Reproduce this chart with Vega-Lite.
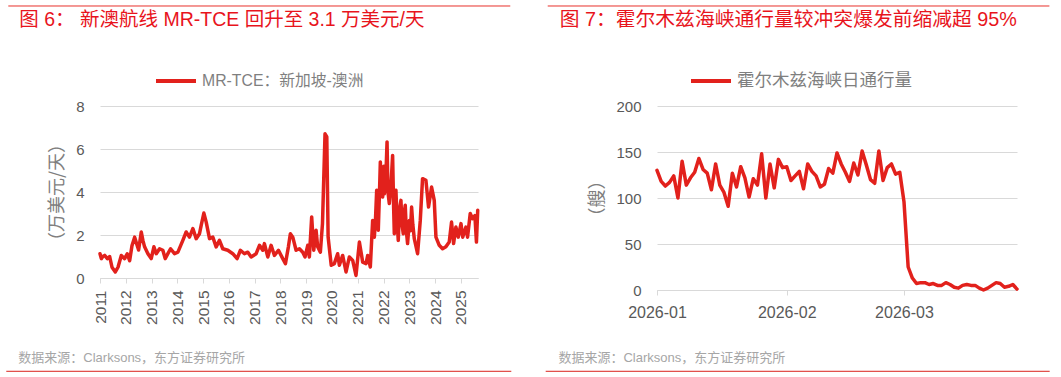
{
  "$schema": "https://vega.github.io/schema/vega-lite/v6.json",
  "background": "white",
  "padding": {"left": 5, "top": 5, "right": 14, "bottom": 5},
  "spacing": 33,
  "resolve": {"scale": {"color": "independent"}, "legend": {"color": "independent"}},
  "config": {
    "view": {"stroke": null},
    "font": "Liberation Sans, Noto Sans CJK SC",
    "axis": {
      "labelFont": "Liberation Sans, Noto Sans CJK SC",
      "labelColor": "#595959",
      "labelFontSize": 15,
      "labelFlush": false,
      "titleFont": "Noto Sans CJK SC",
      "titleColor": "#7F7F7F",
      "titleFontSize": 18,
      "titleFontWeight": "normal",
      "gridColor": "#D9D9D9",
      "domainColor": "#D9D9D9",
      "tickColor": "#D9D9D9"
    },
    "legend": {
      "labelFont": "Liberation Sans, Noto Sans CJK SC",
      "labelFontSize": 17,
      "labelColor": "#7F7F7F",
      "labelLimit": 0,
      "symbolType": "stroke",
      "symbolSize": 1600,
      "symbolStrokeWidth": 4,
      "labelOffset": 4,
      "padding": 0
    }
  },
  "hconcat": [
    {
      "width": 378,
      "height": 172,
      "layer": [
        {
          "data": {"values": [
            {"date":"2011-01-01","v":1.13},{"date":"2011-01-20","v":0.9},{"date":"2011-02-10","v":1.0},{"date":"2011-03-08","v":1.05},
            {"date":"2011-04-15","v":0.9},{"date":"2011-05-18","v":1.0},{"date":"2011-06-20","v":0.5},{"date":"2011-08-06","v":0.28},
            {"date":"2011-09-13","v":0.5},{"date":"2011-10-30","v":1.05},{"date":"2011-12-16","v":0.9},{"date":"2012-01-22","v":1.13},
            {"date":"2012-02-25","v":0.8},{"date":"2012-03-29","v":1.5},{"date":"2012-05-06","v":1.9},{"date":"2012-06-12","v":1.5},
            {"date":"2012-07-01","v":1.3},{"date":"2012-08-08","v":2.14},{"date":"2012-08-31","v":1.75},{"date":"2012-09-24","v":1.45},
            {"date":"2012-11-10","v":1.13},{"date":"2012-12-27","v":0.9},{"date":"2013-02-03","v":1.45},{"date":"2013-03-08","v":1.13},
            {"date":"2013-04-24","v":1.36},{"date":"2013-06-10","v":1.29},{"date":"2013-07-13","v":0.9},{"date":"2013-08-20","v":1.13},
            {"date":"2013-09-27","v":1.36},{"date":"2013-11-22","v":1.13},{"date":"2014-01-09","v":1.2},{"date":"2014-03-20","v":1.75},
            {"date":"2014-05-06","v":2.14},{"date":"2014-06-22","v":1.9},{"date":"2014-08-09","v":2.3},{"date":"2014-09-25","v":1.83},
            {"date":"2014-11-11","v":2.06},{"date":"2014-12-05","v":2.45},{"date":"2015-01-12","v":3.02},{"date":"2015-02-14","v":2.6},
            {"date":"2015-04-02","v":1.83},{"date":"2015-05-19","v":1.9},{"date":"2015-07-05","v":1.45},{"date":"2015-08-21","v":1.75},
            {"date":"2015-10-07","v":1.36},{"date":"2015-12-17","v":1.29},{"date":"2016-02-26","v":1.13},{"date":"2016-04-27","v":0.9},
            {"date":"2016-06-13","v":1.29},{"date":"2016-08-09","v":1.13},{"date":"2016-09-26","v":1.2},{"date":"2016-11-12","v":0.98},
            {"date":"2017-01-22","v":1.13},{"date":"2017-03-10","v":1.52},{"date":"2017-04-26","v":1.29},{"date":"2017-05-19","v":1.6},
            {"date":"2017-07-06","v":0.98},{"date":"2017-08-22","v":1.52},{"date":"2017-10-08","v":1.05},{"date":"2017-12-04","v":1.29},
            {"date":"2018-02-03","v":0.9},{"date":"2018-03-13","v":0.67},{"date":"2018-04-24","v":1.45},{"date":"2018-05-22","v":2.06},
            {"date":"2018-06-25","v":1.9},{"date":"2018-08-11","v":1.29},{"date":"2018-09-27","v":1.36},{"date":"2018-11-13","v":1.2},
            {"date":"2018-12-16","v":0.98},{"date":"2019-01-23","v":1.52},{"date":"2019-02-15","v":0.98},{"date":"2019-03-20","v":2.84},
            {"date":"2019-04-18","v":1.29},{"date":"2019-05-21","v":2.22},{"date":"2019-06-13","v":1.45},{"date":"2019-07-21","v":1.2},
            {"date":"2019-08-20","v":2.53},{"date":"2019-09-25","v":6.71},{"date":"2019-10-20","v":6.56},{"date":"2019-11-08","v":1.9},
            {"date":"2019-12-22","v":0.59},{"date":"2020-02-04","v":0.67},{"date":"2020-03-22","v":1.13},{"date":"2020-04-15","v":0.59},
            {"date":"2020-06-01","v":1.05},{"date":"2020-07-19","v":0.28},{"date":"2020-09-04","v":0.98},{"date":"2020-10-21","v":0.82},
            {"date":"2020-12-07","v":0.12},{"date":"2021-01-24","v":1.67},{"date":"2021-03-12","v":0.74},{"date":"2021-04-28","v":0.67},
            {"date":"2021-05-22","v":1.05},{"date":"2021-06-28","v":0.51},{"date":"2021-07-31","v":2.68},{"date":"2021-08-24","v":1.9},
            {"date":"2021-09-10","v":2.8},{"date":"2021-09-26","v":4.08},{"date":"2021-10-10","v":3.9},{"date":"2021-10-19","v":2.22},
            {"date":"2021-11-05","v":4.0},{"date":"2021-11-17","v":5.4},{"date":"2021-12-01","v":4.2},{"date":"2021-12-20","v":3.77},
            {"date":"2022-01-05","v":5.2},{"date":"2022-01-13","v":3.92},{"date":"2022-02-01","v":4.5},{"date":"2022-02-20","v":6.33},
            {"date":"2022-03-05","v":4.0},{"date":"2022-03-24","v":3.46},{"date":"2022-04-15","v":4.2},{"date":"2022-05-10","v":5.7},
            {"date":"2022-05-25","v":3.2},{"date":"2022-06-03","v":2.06},{"date":"2022-06-15","v":3.9},{"date":"2022-06-26","v":4.08},
            {"date":"2022-07-10","v":2.8},{"date":"2022-07-29","v":1.75},{"date":"2022-08-15","v":3.2},{"date":"2022-09-05","v":3.61},
            {"date":"2022-09-20","v":2.5},{"date":"2022-10-08","v":2.06},{"date":"2022-10-20","v":3.0},{"date":"2022-11-05","v":3.38},
            {"date":"2022-11-20","v":2.2},{"date":"2022-12-08","v":1.6},{"date":"2023-01-02","v":2.68},{"date":"2023-01-18","v":2.2},
            {"date":"2023-02-03","v":3.3},{"date":"2023-02-20","v":2.5},{"date":"2023-03-13","v":1.83},{"date":"2023-04-29","v":1.13},
            {"date":"2023-06-06","v":2.68},{"date":"2023-07-08","v":4.62},{"date":"2023-08-25","v":4.54},{"date":"2023-10-01","v":3.3},
            {"date":"2023-11-13","v":4.23},{"date":"2023-12-21","v":3.61},{"date":"2024-01-14","v":1.9},{"date":"2024-03-01","v":1.52},
            {"date":"2024-04-17","v":1.36},{"date":"2024-06-03","v":1.45},{"date":"2024-07-20","v":1.67},{"date":"2024-08-22","v":2.6},
            {"date":"2024-09-20","v":1.6},{"date":"2024-10-23","v":2.37},{"date":"2024-11-25","v":1.9},{"date":"2025-01-03","v":2.53},
            {"date":"2025-01-27","v":1.9},{"date":"2025-03-14","v":2.37},{"date":"2025-04-06","v":1.9},{"date":"2025-05-14","v":3.0},
            {"date":"2025-06-16","v":2.76},{"date":"2025-07-19","v":2.9},{"date":"2025-08-10","v":1.67},{"date":"2025-08-28","v":3.15}
          ]},
          "mark": {"type": "line", "strokeWidth": 3.5, "strokeJoin": "round", "strokeCap": "round"},
          "encoding": {
            "x": {
              "field": "date", "type": "temporal",
              "scale": {"type": "utc", "domain": [{"year": 2011, "month": 1, "date": 1, "utc": true}, {"year": 2025, "month": 9, "date": 1, "utc": true}]},
              "axis": {
                "title": null, "grid": false, "format": "%Y", "labelAngle": 270,
                "values": [
                  {"year": 2011, "month": 1, "date": 1, "utc": true}, {"year": 2012, "month": 1, "date": 1, "utc": true},
                  {"year": 2013, "month": 1, "date": 1, "utc": true}, {"year": 2014, "month": 1, "date": 1, "utc": true},
                  {"year": 2015, "month": 1, "date": 1, "utc": true}, {"year": 2016, "month": 1, "date": 1, "utc": true},
                  {"year": 2017, "month": 1, "date": 1, "utc": true}, {"year": 2018, "month": 1, "date": 1, "utc": true},
                  {"year": 2019, "month": 1, "date": 1, "utc": true}, {"year": 2020, "month": 1, "date": 1, "utc": true},
                  {"year": 2021, "month": 1, "date": 1, "utc": true}, {"year": 2022, "month": 1, "date": 1, "utc": true},
                  {"year": 2023, "month": 1, "date": 1, "utc": true}, {"year": 2024, "month": 1, "date": 1, "utc": true},
                  {"year": 2025, "month": 1, "date": 1, "utc": true}
                ],
                "tickSize": 5, "labelPadding": 7, "labelFontSize": 15.5
              }
            },
            "y": {
              "field": "v", "type": "quantitative",
              "scale": {"domain": [0, 8]},
              "axis": {"values": [0, 2, 4, 6, 8], "title": "（万美元/天）", "titlePadding": 9, "domain": false, "ticks": false, "labelPadding": 16, "grid": true}
            },
            "color": {
              "datum": "MR-TCE：新加坡-澳洲",
              "scale": {"range": ["#E2211C"]},
              "legend": {"title": null, "orient": "none", "legendX": 54, "legendY": -47, "labelFontSize": 15.8}
            }
          }
        },
        {
          "data": {"values": [{}]},
          "mark": {"type": "rule", "color": "#E8312B", "strokeWidth": 1},
          "encoding": {
            "x": {"datum": -0.2426, "type": "quantitative", "scale": {"domain": [0, 1]}, "axis": null},
            "x2": {"datum": 1.0854},
            "y": {"datum": 1.5814, "type": "quantitative", "scale": {"domain": [0, 1]}, "axis": null}
          }
        },
        {
          "data": {"values": [{}]},
          "mark": {"type": "rule", "color": "#D9231D", "strokeWidth": 1},
          "encoding": {
            "x": {"datum": -0.2479, "type": "quantitative", "scale": {"domain": [0, 1]}, "axis": null},
            "x2": {"datum": 1.0881},
            "y": {"datum": -0.5424, "type": "quantitative", "scale": {"domain": [0, 1]}, "axis": null}
          }
        },
        {
          "data": {"values": [{}]},
          "mark": {"type": "text", "text": "图 6： 新澳航线 MR-TCE 回升至 3.1 万美元/天", "align": "left", "baseline": "middle", "fontSize": 19.5, "color": "#E8141C", "font": "Liberation Sans, Noto Sans CJK SC"},
          "encoding": {
            "x": {"datum": -0.2135, "type": "quantitative", "scale": {"domain": [0, 1]}, "axis": null},
            "y": {"datum": 1.4983, "type": "quantitative", "scale": {"domain": [0, 1]}, "axis": null}
          }
        },
        {
          "data": {"values": [{}]},
          "mark": {"type": "text", "text": "数据来源：Clarksons，东方证券研究所", "align": "left", "baseline": "middle", "fontSize": 13, "color": "#A6A6A6", "font": "Liberation Sans, Noto Sans CJK SC"},
          "encoding": {
            "x": {"datum": -0.2161, "type": "quantitative", "scale": {"domain": [0, 1]}, "axis": null},
            "y": {"datum": -0.4651, "type": "quantitative", "scale": {"domain": [0, 1]}, "axis": null}
          }
        }
      ],
      "resolve": {"scale": {"x": "independent", "y": "independent"}}
    },
    {
      "width": 360,
      "height": 184,
      "layer": [
        {
          "data": {"values": [
            {"date":"2026-01-01","v":130},{"date":"2026-01-02","v":118},{"date":"2026-01-03","v":113},{"date":"2026-01-04","v":117},
            {"date":"2026-01-05","v":124},{"date":"2026-01-06","v":100},{"date":"2026-01-07","v":140},{"date":"2026-01-08","v":114},
            {"date":"2026-01-09","v":122},{"date":"2026-01-10","v":128},{"date":"2026-01-11","v":143},{"date":"2026-01-12","v":131},
            {"date":"2026-01-13","v":127},{"date":"2026-01-14","v":109},{"date":"2026-01-15","v":137},{"date":"2026-01-16","v":114},
            {"date":"2026-01-17","v":106},{"date":"2026-01-18","v":91},{"date":"2026-01-19","v":127},{"date":"2026-01-20","v":112},
            {"date":"2026-01-21","v":134},{"date":"2026-01-22","v":122},{"date":"2026-01-23","v":101},{"date":"2026-01-24","v":121},
            {"date":"2026-01-25","v":114},{"date":"2026-01-26","v":148},{"date":"2026-01-27","v":100},{"date":"2026-01-28","v":137},
            {"date":"2026-01-29","v":111},{"date":"2026-01-30","v":142},{"date":"2026-01-31","v":133},{"date":"2026-02-01","v":134},
            {"date":"2026-02-02","v":119},{"date":"2026-02-03","v":124},{"date":"2026-02-04","v":129},{"date":"2026-02-05","v":110},
            {"date":"2026-02-06","v":137},{"date":"2026-02-07","v":129},{"date":"2026-02-08","v":124},{"date":"2026-02-09","v":112},
            {"date":"2026-02-10","v":115},{"date":"2026-02-11","v":132},{"date":"2026-02-12","v":127},{"date":"2026-02-13","v":149},
            {"date":"2026-02-14","v":137},{"date":"2026-02-15","v":128},{"date":"2026-02-16","v":118},{"date":"2026-02-17","v":138},
            {"date":"2026-02-18","v":125},{"date":"2026-02-19","v":151},{"date":"2026-02-20","v":136},{"date":"2026-02-21","v":120},
            {"date":"2026-02-22","v":116},{"date":"2026-02-23","v":151},{"date":"2026-02-24","v":119},{"date":"2026-02-25","v":133},
            {"date":"2026-02-26","v":137},{"date":"2026-02-27","v":126},{"date":"2026-02-28","v":128},{"date":"2026-03-01","v":96},
            {"date":"2026-03-02","v":25},{"date":"2026-03-03","v":13},{"date":"2026-03-04","v":7},{"date":"2026-03-05","v":8},
            {"date":"2026-03-06","v":8},{"date":"2026-03-07","v":6},{"date":"2026-03-08","v":7},{"date":"2026-03-09","v":5},
            {"date":"2026-03-10","v":5},{"date":"2026-03-11","v":8},{"date":"2026-03-12","v":6},{"date":"2026-03-13","v":3},
            {"date":"2026-03-14","v":2},{"date":"2026-03-15","v":5},{"date":"2026-03-16","v":6},{"date":"2026-03-17","v":5},
            {"date":"2026-03-18","v":5},{"date":"2026-03-19","v":2},{"date":"2026-03-20","v":0},{"date":"2026-03-21","v":2},
            {"date":"2026-03-22","v":5},{"date":"2026-03-23","v":8},{"date":"2026-03-24","v":7},{"date":"2026-03-25","v":3},
            {"date":"2026-03-26","v":4},{"date":"2026-03-27","v":6},{"date":"2026-03-28","v":1}
          ]},
          "mark": {"type": "line", "strokeWidth": 3.5, "strokeJoin": "round", "strokeCap": "round"},
          "encoding": {
            "x": {
              "field": "date", "type": "temporal",
              "scale": {"type": "utc", "domain": [{"year": 2026, "month": 1, "date": 1, "utc": true}, {"year": 2026, "month": 3, "date": 28, "utc": true}]},
              "axis": {
                "title": null, "grid": false, "format": "%Y-%m", "labelAngle": 0,
                "values": [
                  {"year": 2026, "month": 1, "date": 1, "utc": true},
                  {"year": 2026, "month": 2, "date": 1, "utc": true},
                  {"year": 2026, "month": 3, "date": 1, "utc": true}
                ],
                "tickSize": 5, "labelPadding": 9, "labelFontSize": 16
              }
            },
            "y": {
              "field": "v", "type": "quantitative",
              "scale": {"domain": [0, 200]},
              "axis": {"values": [0, 50, 100, 150, 200], "title": "（艘）", "titlePadding": 9, "domain": false, "ticks": false, "labelPadding": 16, "grid": true}
            },
            "color": {
              "datum": "霍尔木兹海峡日通行量",
              "scale": {"range": ["#E2211C"]},
              "legend": {"title": null, "orient": "none", "legendX": 32, "legendY": -47, "labelFontSize": 17.5}
            }
          }
        },
        {
          "data": {"values": [{}]},
          "mark": {"type": "rule", "color": "#E8312B", "strokeWidth": 1},
          "encoding": {
            "x": {"datum": -0.3036, "type": "quantitative", "scale": {"domain": [0, 1]}, "axis": null},
            "x2": {"datum": 1.09},
            "y": {"datum": 1.5435, "type": "quantitative", "scale": {"domain": [0, 1]}, "axis": null}
          }
        },
        {
          "data": {"values": [{}]},
          "mark": {"type": "rule", "color": "#D9231D", "strokeWidth": 1},
          "encoding": {
            "x": {"datum": -0.3092, "type": "quantitative", "scale": {"domain": [0, 1]}, "axis": null},
            "x2": {"datum": 1.0908},
            "y": {"datum": -0.4418, "type": "quantitative", "scale": {"domain": [0, 1]}, "axis": null}
          }
        },
        {
          "data": {"values": [{}]},
          "mark": {"type": "text", "text": "图 7：霍尔木兹海峡通行量较冲突爆发前缩减超 95%", "align": "left", "baseline": "middle", "fontSize": 19.8, "color": "#E8141C", "font": "Liberation Sans, Noto Sans CJK SC"},
          "encoding": {
            "x": {"datum": -0.2703, "type": "quantitative", "scale": {"domain": [0, 1]}, "axis": null},
            "y": {"datum": 1.4658, "type": "quantitative", "scale": {"domain": [0, 1]}, "axis": null}
          }
        },
        {
          "data": {"values": [{}]},
          "mark": {"type": "text", "text": "数据来源：Clarksons，东方证券研究所", "align": "left", "baseline": "middle", "fontSize": 13, "color": "#A6A6A6", "font": "Liberation Sans, Noto Sans CJK SC"},
          "encoding": {
            "x": {"datum": -0.2739, "type": "quantitative", "scale": {"domain": [0, 1]}, "axis": null},
            "y": {"datum": -0.3696, "type": "quantitative", "scale": {"domain": [0, 1]}, "axis": null}
          }
        }
      ],
      "resolve": {"scale": {"x": "independent", "y": "independent"}}
    }
  ]
}
